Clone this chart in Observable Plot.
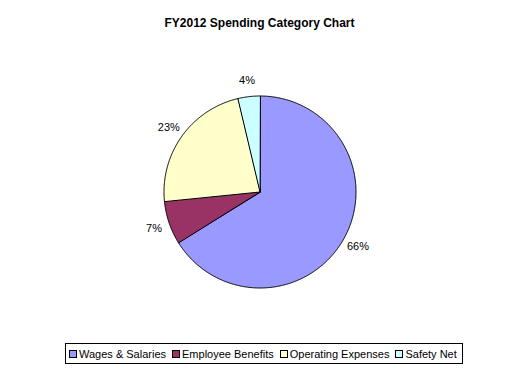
<!DOCTYPE html>
<html><head><meta charset="utf-8">
<script src="https://cdn.jsdelivr.net/npm/d3@7"></script>
<script src="https://cdn.jsdelivr.net/npm/@observablehq/plot@0.6"></script>
<style>
body{margin:0;background:#fff;font-family:"Liberation Sans",Arial,sans-serif;}
#wrap{position:relative;width:520px;height:373px;overflow:hidden;background:#fff;}
#title{position:absolute;left:0;top:16px;width:519px;text-align:center;font-weight:bold;font-size:12px;line-height:14px;color:#000;}
#chart{position:absolute;left:0;top:40px;}
#legend{position:absolute;left:65px;top:343px;width:396px;height:19px;border:1px solid #000;display:flex;align-items:center;font-size:11px;line-height:12px;color:#000;box-sizing:content-box;}
.item{display:flex;align-items:center;margin-right:6px;white-space:nowrap;}
.item:first-child{margin-left:3px;}
.sw{width:6px;height:6px;border:1px solid #000;margin-right:2px;}
</style>
</head><body>
<div id="wrap">
  <div id="title">FY2012 Spending Category Chart</div>
  <div id="chart"></div>
  <div id="legend"></div>
</div>
<script>
const categories = ["Wages & Salaries", "Employee Benefits", "Operating Expenses", "Safety Net"];
const values = [66.1, 7.3, 22.9, 3.7];
const labels = ["66%", "7%", "23%", "4%"];
const colors = ["#9999FF", "#993366", "#FFFFCC", "#CCFFFF"];

const W = 520, H = 295;
const cx = 259.5, cy = 151.5, R = 96, RL = 112;

const arcs = d3.pie().sort(null).startAngle(0).endAngle(2 * Math.PI)(values);
const polys = [];
const labelData = [];
arcs.forEach((a, i) => {
  const cat = categories[i];
  polys.push({cat, x: cx, y: cy});
  const n = Math.max(2, Math.ceil((a.endAngle - a.startAngle) / (Math.PI / 360)));
  for (let k = 0; k <= n; k++) {
    const t = a.startAngle + (a.endAngle - a.startAngle) * k / n;
    polys.push({cat, x: cx + R * Math.sin(t), y: cy - R * Math.cos(t)});
  }
  const m = (a.startAngle + a.endAngle) / 2;
  labelData.push({cat, text: labels[i], x: cx + RL * Math.sin(m), y: cy - RL * Math.cos(m)});
});

const chart = Plot.plot({
  width: W, height: H,
  margin: 0,
  x: {domain: [0, W], range: [0, W], axis: null},
  y: {domain: [0, H], range: [0, H], axis: null},
  color: {type: "ordinal", domain: categories, range: colors},
  style: {fontFamily: "'Liberation Sans', Arial, sans-serif", fontSize: "11px", background: "#fff"},
  marks: [
    Plot.line(polys, {x: "x", y: "y", z: "cat", fill: "cat", stroke: "#000", strokeWidth: 1, curve: "linear-closed"}),
    Plot.text(labelData, {x: "x", y: "y", text: "text", fill: "#000", fontSize: 11})
  ]
});
document.getElementById("chart").appendChild(chart);

const leg = document.getElementById("legend");
categories.forEach((c, i) => {
  const it = document.createElement("div");
  it.className = "item";
  const sw = document.createElement("div");
  sw.className = "sw";
  sw.style.background = colors[i];
  const tx = document.createElement("span");
  tx.textContent = c;
  it.appendChild(sw); it.appendChild(tx);
  leg.appendChild(it);
});
</script>
</body></html>
